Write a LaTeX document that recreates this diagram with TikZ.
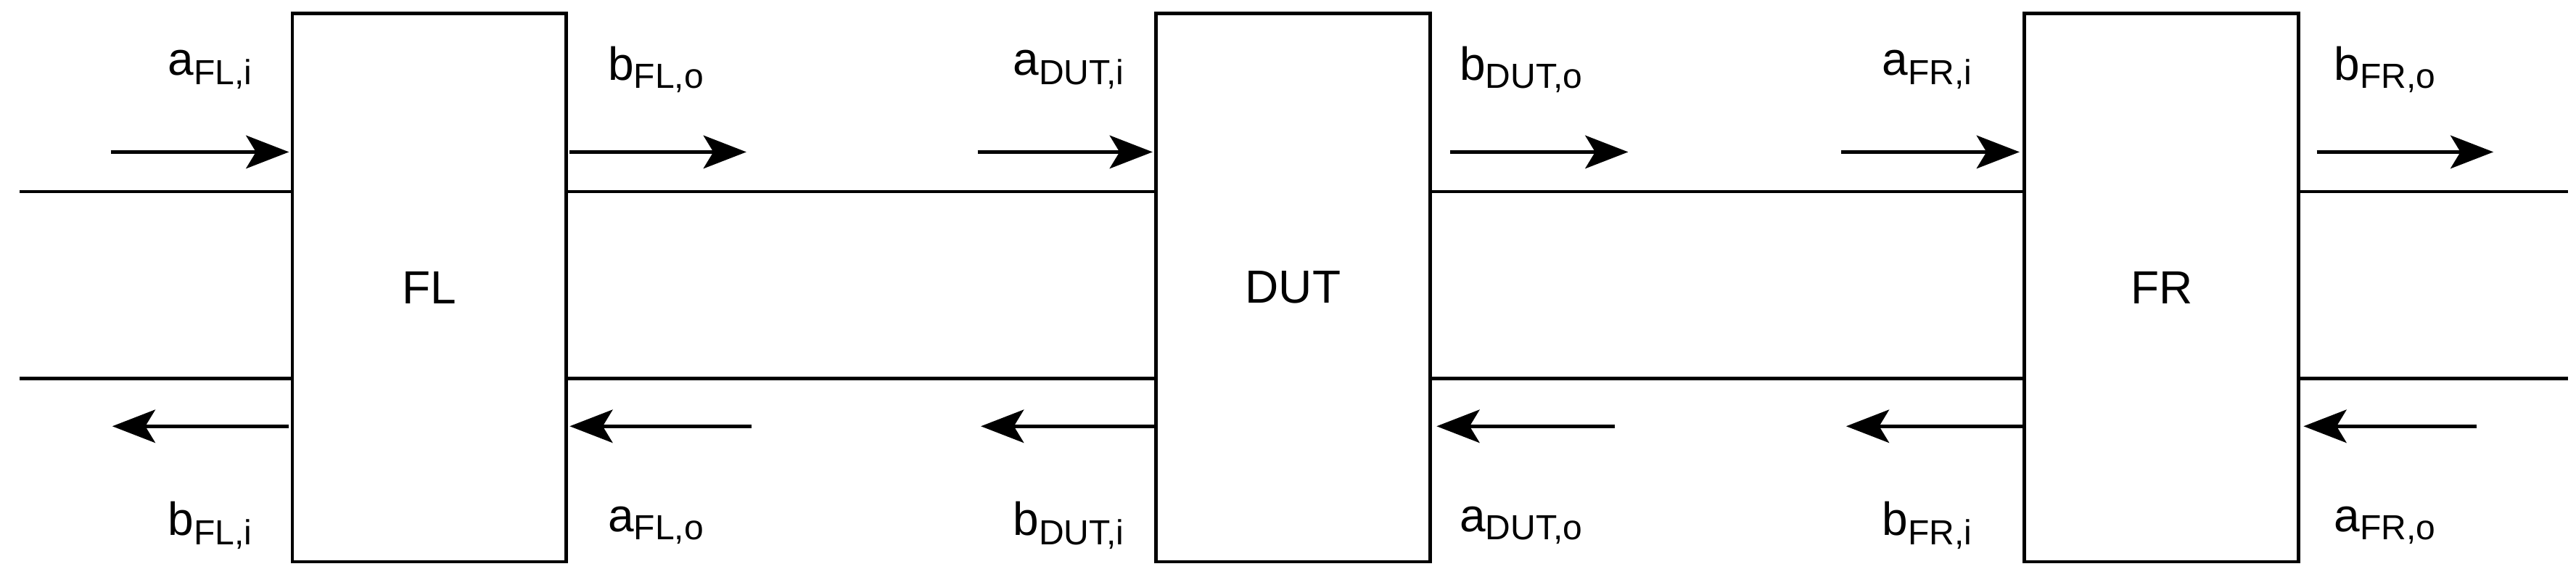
\documentclass[tikz,border=0pt]{standalone}
\usepackage{fontspec}
\setmainfont{Liberation Sans}
\usetikzlibrary{arrows.meta}
\begin{document}
\begin{tikzpicture}[x=0.1mm,y=-0.1mm,
  blk/.style={draw,line width=0.6pt,minimum width=16.6mm,minimum height=33.2mm,inner sep=0pt,font=\fontsize{8}{9}\selectfont},
  wire/.style={line width=0.6pt},
  arr/.style={line width=0.6pt,-{Stealth[length=2.6mm,width=2mm,inset=0.6mm]}},
  lab/.style={font=\fontsize{8}{9}\selectfont,inner sep=0pt}]
\useasboundingbox (0,0) rectangle (1560,349);
\node[blk] (FL) at (260,174) {FL};
\node[blk] (DUT) at (783,174) {DUT};
\node[blk] (FR) at (1309,174) {FR};
\coordinate (L1) at (12,116); \coordinate (L2) at (12,229);
\coordinate (R1) at (1555,116); \coordinate (R2) at (1555,229);
\draw[wire] (L1) -- (L1 -| FL.west);
\draw[wire] (L2) -- (L2 -| FL.west);
\draw[wire] (FL.east |- L1) -- (DUT.west |- L1);
\draw[wire] (FL.east |- L2) -- (DUT.west |- L2);
\draw[wire] (DUT.east |- L1) -- (FR.west |- L1);
\draw[wire] (DUT.east |- L2) -- (FR.west |- L2);
\draw[wire] (FR.east |- R1) -- (R1);
\draw[wire] (FR.east |- R2) -- (R2);
% top arrows
\coordinate (a1s) at (67,92);   \coordinate (a1e) at (175,92);
\coordinate (a2s) at (345,92);  \coordinate (a2e) at (452,92);
\coordinate (a3s) at (592,92);  \coordinate (a3e) at (698,92);
\coordinate (a4s) at (878,92);  \coordinate (a4e) at (986,92);
\coordinate (a5s) at (1115,92); \coordinate (a5e) at (1223,92);
\coordinate (a6s) at (1403,92); \coordinate (a6e) at (1510,92);
\foreach \i in {1,...,6}{\draw[arr] (a\i s) -- (a\i e);}
% bottom arrows
\coordinate (b1s) at (175,258);  \coordinate (b1e) at (68,258);
\coordinate (b2s) at (455,258);  \coordinate (b2e) at (345,258);
\coordinate (b3s) at (700,258);  \coordinate (b3e) at (594,258);
\coordinate (b4s) at (978,258);  \coordinate (b4e) at (870,258);
\coordinate (b5s) at (1225,258); \coordinate (b5e) at (1118,258);
\coordinate (b6s) at (1500,258); \coordinate (b6e) at (1395,258);
\foreach \i in {1,...,6}{\draw[arr] (b\i s) -- (b\i e);}
% labels
\node[lab] (t1) at (128,42) {a\textsubscript{FL,i}};
\node[lab] (t2) at (398,42) {b\textsubscript{FL,o}};
\node[lab] (t3) at (648,42) {a\textsubscript{DUT,i}};
\node[lab] (t4) at (922,42) {b\textsubscript{DUT,o}};
\node[lab] (t5) at (1168,42) {a\textsubscript{FR,i}};
\node[lab] (t6) at (1445,42) {b\textsubscript{FR,o}};
\node[lab] (u1) at (128,318) {b\textsubscript{FL,i}};
\node[lab] (u2) at (398,318) {a\textsubscript{FL,o}};
\node[lab] (u3) at (648,318) {b\textsubscript{DUT,i}};
\node[lab] (u4) at (922,318) {a\textsubscript{DUT,o}};
\node[lab] (u5) at (1168,318) {b\textsubscript{FR,i}};
\node[lab] (u6) at (1445,318) {a\textsubscript{FR,o}};
\end{tikzpicture}
\end{document}
